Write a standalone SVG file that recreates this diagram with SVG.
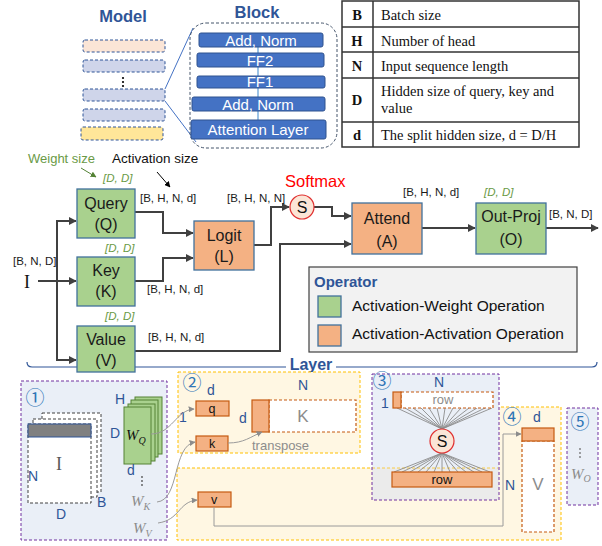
<svg xmlns="http://www.w3.org/2000/svg" width="602" height="546" viewBox="0 0 602 546">
<defs>
<marker id="ah" viewBox="0 0 10 10" refX="9" refY="5" markerWidth="4" markerHeight="4" orient="auto"><path d="M0,0 L10,5 L0,10 z" fill="#404040"/></marker>
<marker id="ahg" viewBox="0 0 10 10" refX="9" refY="5" markerWidth="6" markerHeight="6" orient="auto"><path d="M0,0 L10,5 L0,10 z" fill="#8C8C8C"/></marker>
<marker id="ahgr" viewBox="0 0 10 10" refX="9" refY="5" markerWidth="6" markerHeight="6" orient="auto"><path d="M0,0 L10,5 L0,10 z" fill="#548235"/></marker>
<marker id="ahb" viewBox="0 0 10 10" refX="9" refY="5" markerWidth="6" markerHeight="6" orient="auto"><path d="M0,0 L10,5 L0,10 z" fill="#000"/></marker>
</defs>
<style>
text{font-family:"Liberation Sans",Arial,sans-serif}
.serif{font-family:"Liberation Serif","Times New Roman",serif}
.title{font-weight:bold;fill:#2F5597;font-size:16.5px}
.mrect{stroke:#2F5597;stroke-width:1;stroke-dasharray:3,2}
.blk{fill:#4472C4;stroke:#2F528F;stroke-width:1}
.blkt{fill:#fff;font-size:15px;text-anchor:middle}
.green{fill:#A9D18E;stroke:#41719C;stroke-width:1.3}
.orange{fill:#F4B183;stroke:#41719C;stroke-width:1.3}
.nl{font-size:16px;text-anchor:middle;fill:#1a1a1a}
.dim{font-size:11.5px;fill:#1a1a1a}
.wdim{font-size:11.5px;fill:#6A9A46;font-style:italic}
.conn{fill:none;stroke:#404040;stroke-width:2}
.gconn{fill:none;stroke:#9A9A9A;stroke-width:1}
.tab{font-size:14.5px;fill:#111}
.tabb{font-size:14.5px;font-weight:bold;fill:#111;text-anchor:middle}
.blue{fill:#2F5597;font-size:14px}
.circ{font-family:"Noto Sans CJK JP","DejaVu Sans",sans-serif;fill:#2E75B6;font-size:19px;text-anchor:middle}
.sb{fill:#F4B183;stroke:#C55A11;stroke-width:1.2}
.sbd{fill:#fff;stroke:#C55A11;stroke-width:1.2;stroke-dasharray:3,2}
.regP{fill:#EAEFF7;stroke:#7030A0;stroke-width:1;stroke-dasharray:3,2}
.regY{fill:#FFF7E3;stroke:#FFC000;stroke-width:1;stroke-dasharray:3,2}
.fan{stroke:#8C8C8C;stroke-width:0.9}
.gtxt{fill:#8C8C8C}
</style>

<!-- Model -->
<g id="model">
<text class="title" x="123" y="22" text-anchor="middle">Model</text>
<rect class="mrect" x="83" y="40" width="82" height="12" rx="2" fill="#FBE5D6"/>
<rect class="mrect" x="83" y="60" width="82" height="12" rx="2" fill="#CFD5EA"/>
<circle cx="123" cy="78" r="1.1" fill="#000"/><circle cx="123" cy="82" r="1.1" fill="#000"/><circle cx="123" cy="86" r="1.1" fill="#000"/>
<rect class="mrect" x="83" y="89" width="82" height="12" rx="2" fill="#CFD5EA"/>
<rect class="mrect" x="83" y="109" width="82" height="12" rx="2" fill="#CFD5EA"/>
<rect class="mrect" x="81" y="127" width="82" height="13" rx="2" fill="#FFE699"/>
</g>
<g id="zoomlines">
<line x1="165" y1="89" x2="193" y2="28" stroke="#4472C4" stroke-width="1"/>
<line x1="165" y1="101" x2="196" y2="142" stroke="#4472C4" stroke-width="1"/>
</g>
<!-- Block -->
<g id="block">
<text class="title" x="257" y="18" text-anchor="middle">Block</text>
<rect x="190" y="23" width="147" height="125" rx="16" fill="none" stroke="#44546A" stroke-width="1" stroke-dasharray="3,2"/>
<line x1="258" y1="40" x2="258" y2="125" stroke="#5B9BD5" stroke-width="1.2"/>
<rect class="blk" x="199" y="33" width="124" height="14" rx="2"/>
<text class="blkt" x="261" y="46">Add, Norm</text>
<rect class="blk" x="197" y="53" width="127" height="14" rx="2"/>
<text class="blkt" x="260" y="66">FF2</text>
<rect class="blk" x="197" y="76" width="128" height="12" rx="2"/>
<text class="blkt" x="260" y="87">FF1</text>
<rect class="blk" x="192" y="97" width="133" height="14" rx="2"/>
<text class="blkt" x="258" y="110">Add, Norm</text>
<rect class="blk" x="191" y="120" width="135" height="19" rx="2"/>
<text class="blkt" x="258" y="135">Attention Layer</text>
</g>
<!-- Table -->
<g id="table">
<rect x="342" y="1" width="237" height="146" fill="#fff" stroke="#333" stroke-width="1.5"/>
<line x1="373" y1="1" x2="373" y2="147" stroke="#333" stroke-width="1.5"/>
<line x1="342" y1="27" x2="579" y2="27" stroke="#333" stroke-width="1.5"/>
<line x1="342" y1="52" x2="579" y2="52" stroke="#333" stroke-width="1.5"/>
<line x1="342" y1="78" x2="579" y2="78" stroke="#333" stroke-width="1.5"/>
<line x1="342" y1="122" x2="579" y2="122" stroke="#333" stroke-width="1.5"/>
<text class="serif tabb" x="357" y="20">B</text>
<text class="serif tab" x="381" y="20">Batch size</text>
<text class="serif tabb" x="357" y="46">H</text>
<text class="serif tab" x="381" y="46">Number of head</text>
<text class="serif tabb" x="357" y="71">N</text>
<text class="serif tab" x="381" y="71">Input sequence length</text>
<text class="serif tabb" x="357" y="105">D</text>
<text class="serif tab" x="381" y="96">Hidden size of query, key and</text>
<text class="serif tab" x="381" y="113">value</text>
<text class="serif tabb" x="357" y="140">d</text>
<text class="serif tab" x="381" y="140">The split hidden size, d = D/H</text>
</g>

<!-- annotations -->
<text x="28" y="163" font-size="13" fill="#6A9A46">Weight size</text>
<text x="112" y="163" font-size="13.5" fill="#111">Activation size</text>
<line x1="81" y1="168" x2="96" y2="177" stroke="#548235" stroke-width="1" marker-end="url(#ahgr)"/>
<line x1="157" y1="172" x2="170" y2="187" stroke="#000" stroke-width="1" marker-end="url(#ahb)"/>

<!-- Layer bracket -->
<path d="M27,362 Q27,367 32,367 L286,367 M336,367 L592,367 Q597,367 597,362" fill="none" stroke="#2F5597" stroke-width="1.2"/>
<text x="311" y="370" text-anchor="middle" font-size="16" font-weight="bold" fill="#2F5597">Layer</text>

<!-- connectors -->
<g id="connectors">
<line class="conn" x1="38" y1="281" x2="76" y2="281" marker-end="url(#ah)"/>
<path class="conn" d="M57,360 L57,221 L76,221" marker-end="url(#ah)"/>
<path class="conn" d="M57,281 L57,360 L76,360" marker-end="url(#ah)"/>
<path class="conn" d="M135,212 L163,212 L163,233 L193,233" marker-end="url(#ah)"/>
<path class="conn" d="M135,281 L163,281 L163,258 L193,258" marker-end="url(#ah)"/>
<path class="conn" d="M254,245 L271,245 L271,207 L289,207" marker-end="url(#ah)"/>
<path class="conn" d="M314,207 L332,207 L332,216 L351,216" marker-end="url(#ah)"/>
<path class="conn" d="M135,351 L280,351 L280,244 L351,244" marker-end="url(#ah)"/>
<line class="conn" x1="422" y1="228" x2="475" y2="228" marker-end="url(#ah)"/>
<line class="conn" x1="546" y1="228" x2="598" y2="228" marker-end="url(#ah)"/>
</g>

<text class="serif" x="24" y="288" font-size="18" fill="#111">I</text>
<text class="dim" x="13" y="265">[B, N, D]</text>
<text class="wdim" x="103" y="182">[D, D]</text>
<text class="wdim" x="105" y="252">[D, D]</text>
<text class="wdim" x="105" y="320">[D, D]</text>
<text class="dim" x="140" y="202">[B, H, N, d]</text>
<text class="dim" x="147" y="293">[B, H, N, d]</text>
<text class="dim" x="148" y="341">[B, H, N, d]</text>
<text class="dim" x="227" y="202">[B, H, N, N]</text>
<text class="dim" x="403" y="196">[B, H, N, d]</text>
<text class="wdim" x="484" y="196">[D, D]</text>
<text class="dim" x="549" y="218">[B, N, D]</text>

<g id="query"><rect class="green" x="77" y="189" width="58" height="49"/><text class="nl" x="106" y="209">Query</text><text class="nl" x="106" y="230">(Q)</text></g>
<g id="key"><rect class="green" x="77" y="257" width="58" height="49"/><text class="nl" x="106" y="276">Key</text><text class="nl" x="106" y="297">(K)</text></g>
<g id="value"><rect class="green" x="77" y="326" width="58" height="46"/><text class="nl" x="106" y="345">Value</text><text class="nl" x="106" y="366">(V)</text></g>
<g id="logit"><rect class="orange" x="194" y="221" width="60" height="49"/><text class="nl" x="224" y="241">Logit</text><text class="nl" x="224" y="262">(L)</text></g>
<g id="softmax"><text x="285" y="187" font-size="16.5" fill="#FF0000">Softmax</text><circle cx="302" cy="207" r="12" fill="#FBE5D6" stroke="#E03030" stroke-width="1.2"/><text x="302" y="213" font-size="16" text-anchor="middle" fill="#111">S</text></g>
<g id="attend"><rect class="orange" x="352" y="203" width="70" height="51"/><text class="nl" x="387" y="224" font-size="17">Attend</text><text class="nl" x="387" y="247" font-size="17">(A)</text></g>
<g id="outproj"><rect class="green" x="476" y="203" width="70" height="51"/><text class="nl" x="511" y="222" font-size="13.5">Out-Proj</text><text class="nl" x="511" y="245">(O)</text></g>

<g id="legend">
<rect x="309" y="267" width="268" height="85" fill="#F2F2F2" stroke="#404040" stroke-width="1.2"/>
<text x="314" y="287" font-size="15" font-weight="bold" fill="#2F5597">Operator</text>
<rect class="green" x="318" y="296" width="23" height="21"/>
<text x="352" y="311" font-size="15.5" fill="#111">Activation-Weight Operation</text>
<rect class="orange" x="318" y="325" width="23" height="21"/>
<text x="352" y="339" font-size="15.5" fill="#111">Activation-Activation Operation</text>
</g>

<!-- Bottom regions -->
<g id="region1">
<rect class="regP" x="21" y="381" width="146" height="159"/>
<text class="circ" x="35" y="405">①</text>
<rect x="42" y="413" width="59" height="79" fill="#fff" stroke="#404040" stroke-width="1" stroke-dasharray="3,2"/>
<rect x="33" y="419" width="64" height="78" fill="#fff" stroke="#404040" stroke-width="1" stroke-dasharray="3,2"/>
<rect x="28" y="424" width="63" height="79" fill="#fff" stroke="#404040" stroke-width="1" stroke-dasharray="3,2"/>
<rect x="28" y="424" width="63" height="13" fill="#808080" stroke="#2F5597" stroke-width="1"/>
<text class="serif" x="59" y="470" font-size="18" fill="#595959" text-anchor="middle">I</text>
<text class="blue" x="28" y="481" font-size="14">N</text>
<text class="blue" x="56" y="519" font-size="14">D</text>
<text class="blue" x="97" y="507" font-size="14">B</text>
<rect x="135" y="397" width="27" height="57" fill="#A9D18E" stroke="#548235" stroke-width="1"/>
<rect x="131" y="400" width="27" height="57" fill="#A9D18E" stroke="#548235" stroke-width="1"/>
<rect x="128" y="404" width="27" height="57" fill="#A9D18E" stroke="#548235" stroke-width="1"/>
<rect x="124" y="407" width="27" height="57" fill="#A9D18E" stroke="#548235" stroke-width="1"/>
<text class="serif" x="126" y="440" font-size="15" font-style="italic" fill="#111">W<tspan font-size="10" dy="4">Q</tspan></text>
<text class="blue" x="115" y="404" font-size="14">H</text>
<text class="blue" x="110" y="438" font-size="14">D</text>
<text class="blue" x="127" y="475" font-size="14">d</text>
<circle cx="142" cy="477" r="0.9" fill="#555"/><circle cx="142" cy="481" r="0.9" fill="#555"/><circle cx="142" cy="485" r="0.9" fill="#555"/>
<text class="serif gtxt" x="131" y="506" font-size="15" font-style="italic">W<tspan font-size="10" dy="4">K</tspan></text>
<text class="serif gtxt" x="133" y="533" font-size="15" font-style="italic">W<tspan font-size="10" dy="4">V</tspan></text>
</g>

<g id="region4bg">
<path class="regY" d="M177,468 L498,468 L498,407 L561,407 L561,540 L177,540 Z"/>
</g>

<g id="region2">
<rect class="regY" x="178" y="372" width="182" height="81"/>
<text class="circ" x="192" y="390">②</text>
<text class="blue" x="207" y="395" font-size="14">d</text>
<text class="blue" x="179" y="422" font-size="14">1</text>
<rect class="sb" x="196" y="401" width="33" height="15"/>
<text x="212" y="413" font-size="12.5" text-anchor="middle" fill="#111">q</text>
<rect class="sb" x="196" y="436" width="32" height="15"/>
<text x="212" y="448" font-size="12.5" text-anchor="middle" fill="#111">k</text>
<text class="blue" x="298" y="390" font-size="14">N</text>
<text class="blue" x="239" y="423" font-size="14">d</text>
<rect class="sbd" x="269" y="400" width="87" height="32"/>
<rect class="sb" x="252" y="400" width="17" height="32"/>
<text class="gtxt" x="303" y="422" font-size="17" text-anchor="middle">K</text>
<text class="gtxt" x="252" y="450" font-size="13">transpose</text>
</g>

<g id="region3">
<rect x="372" y="374" width="127" height="126" fill="#EAEFF7"/>
<rect x="372" y="468" width="127" height="32" fill="#EBEBEB"/>
<line x1="372" y1="468" x2="498" y2="468" stroke="#FFC000" stroke-width="1" stroke-dasharray="3,2" opacity="0.7"/>
<rect x="372" y="374" width="127" height="126" fill="none" stroke="#7030A0" stroke-width="1" stroke-dasharray="3,2"/>
<text class="circ" x="382" y="388">③</text>
<text class="blue" x="434" y="387" font-size="14">N</text>
<text class="blue" x="381" y="408" font-size="14">1</text>
<g class="fan">
<line x1="397" y1="408" x2="442" y2="429"/><line x1="405" y1="408" x2="442" y2="429"/><line x1="413" y1="408" x2="442" y2="429"/><line x1="421" y1="408" x2="442" y2="429"/><line x1="429" y1="408" x2="442" y2="429"/><line x1="437" y1="408" x2="442" y2="429"/><line x1="445" y1="408" x2="442" y2="429"/><line x1="453" y1="408" x2="442" y2="429"/><line x1="461" y1="408" x2="442" y2="429"/><line x1="469" y1="408" x2="442" y2="429"/><line x1="477" y1="408" x2="442" y2="429"/><line x1="485" y1="408" x2="442" y2="429"/><line x1="492" y1="408" x2="442" y2="429"/>
<line x1="394" y1="472" x2="442" y2="453"/><line x1="402" y1="472" x2="442" y2="453"/><line x1="410" y1="472" x2="442" y2="453"/><line x1="418" y1="472" x2="442" y2="453"/><line x1="426" y1="472" x2="442" y2="453"/><line x1="434" y1="472" x2="442" y2="453"/><line x1="442" y1="472" x2="442" y2="453"/><line x1="450" y1="472" x2="442" y2="453"/><line x1="458" y1="472" x2="442" y2="453"/><line x1="466" y1="472" x2="442" y2="453"/><line x1="474" y1="472" x2="442" y2="453"/><line x1="482" y1="472" x2="442" y2="453"/><line x1="490" y1="472" x2="442" y2="453"/>
</g>
<rect class="sbd" x="401" y="392" width="92" height="16"/>
<rect class="sb" x="393" y="392" width="8" height="16"/>
<text class="gtxt" x="443" y="404" font-size="13" text-anchor="middle">row</text>
<circle cx="442" cy="441" r="12" fill="#FBE5D6" stroke="#E03030" stroke-width="1.2"/>
<text x="442" y="447" font-size="16" text-anchor="middle" fill="#111">S</text>
<rect class="sb" x="392" y="472" width="100" height="15"/>
<text x="442" y="484" font-size="13" text-anchor="middle" fill="#111">row</text>
</g>

<g id="region4">
<text class="circ" x="512" y="424">④</text>
<text class="blue" x="533" y="422" font-size="14">d</text>
<text class="blue" x="505" y="490" font-size="14">N</text>
<rect class="sbd" x="522" y="441" width="32" height="91"/>
<rect class="sb" x="522" y="428" width="32" height="13"/>
<text class="gtxt" x="538" y="490" font-size="17" text-anchor="middle">V</text>
<rect class="sb" x="198" y="492" width="33" height="15"/>
<text x="214" y="504" font-size="12.5" text-anchor="middle" fill="#111">v</text>
</g>

<g id="region5">
<rect class="regP" x="567" y="408" width="31" height="97"/>
<text class="circ" x="580" y="429">⑤</text>
<circle cx="580" cy="449" r="0.9" fill="#777"/><circle cx="580" cy="453" r="0.9" fill="#777"/><circle cx="580" cy="457" r="0.9" fill="#777"/>
<text class="serif gtxt" x="571" y="479" font-size="15" font-style="italic">W<tspan font-size="10" dy="3">O</tspan></text>
</g>

<g id="detail-connectors">
<path class="gconn" d="M151,434 C172,434 176,410 194,409" marker-end="url(#ahg)"/>
<path class="gconn" d="M157,502 C180,500 172,446 195,442" marker-end="url(#ahg)"/>
<path class="gconn" d="M158,523 C180,520 178,502 197,500" marker-end="url(#ahg)"/>
<path class="gconn" d="M228,443 C244,443 250,437 262,432" marker-end="url(#ahg)"/>
<path class="gconn" d="M214,507 L214,526 L503,526 L503,434 L521,434" marker-end="url(#ahg)"/>
</g>
</svg>
